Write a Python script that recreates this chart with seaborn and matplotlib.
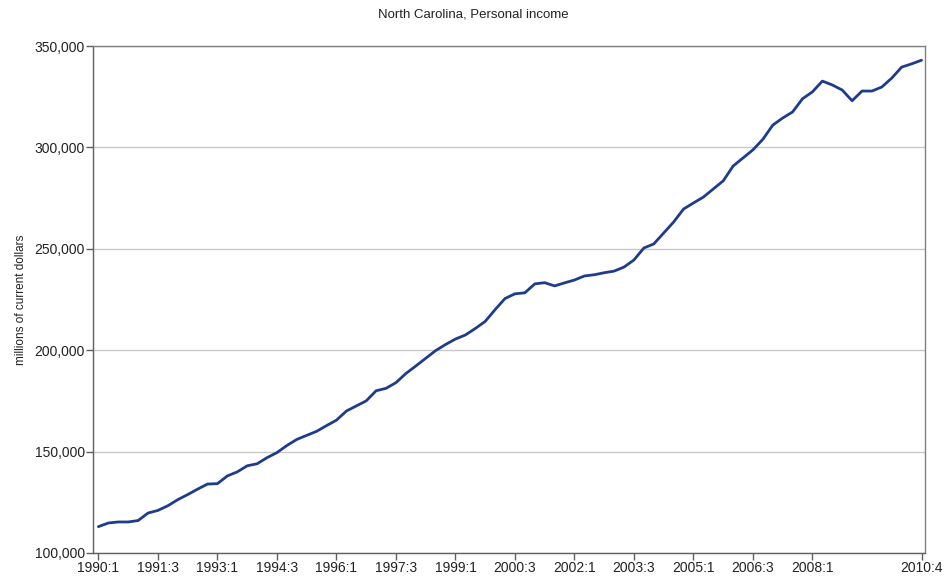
import matplotlib
matplotlib.use("Agg")
import matplotlib.pyplot as plt
import numpy as np
import pandas as pd
import seaborn as sns

# quarterly personal income, millions of current dollars
years = list(range(1990, 2011))
quarters = [f"{y}:{q}" for y in years for q in range(1, 5)]
income = [
    113.0, 114.8, 115.3, 115.3, 116.0, 119.7, 121.0, 123.3,
    126.3, 128.8, 131.5, 134.0, 134.2, 138.0, 140.0, 143.0,
    144.0, 147.0, 149.5, 153.0, 156.0, 158.0, 160.0, 162.8,
    165.5, 170.0, 172.5, 175.0, 180.0, 181.2, 184.0, 188.5,
    192.2, 196.0, 199.8, 202.8, 205.5, 207.5, 210.7, 214.2,
    220.0, 225.5, 227.8, 228.3, 232.7, 233.3, 231.7, 233.2,
    234.6, 236.6, 237.2, 238.2, 239.0, 241.0, 244.5, 250.4,
    252.4, 257.8, 263.2, 269.6, 272.6, 275.5, 279.5, 283.5,
    290.8, 294.8, 298.8, 304.0, 311.0, 314.5, 317.5, 324.0,
    327.4, 332.7, 330.8, 328.3, 323.0, 327.8, 327.8, 329.8,
    334.2, 339.6, 341.2, 343.0,
]
income = [v * 1000 for v in income]
tick_labels = ["1990:1", "1991:3", "1993:1", "1994:3", "1996:1", "1997:3", "1999:1",
               "2000:3", "2002:1", "2003:3", "2005:1", "2006:3", "2008:1", "2010:4"]
y_ticks = [100000, 150000, 200000, 250000, 300000, 350000]

df = pd.DataFrame({"idx": np.arange(len(quarters)), "quarter": quarters, "income": income})

sns.set_style("white")
plt.rcParams['font.family'] = ['Liberation Sans', 'DejaVu Sans']

fig = plt.figure(figsize=(9.46, 5.81), dpi=100)
ax = fig.add_axes([0.0983, 0.0482, 0.8795, 0.8726])

sns.lineplot(data=df, x="idx", y="income", color="#1f3c8c", linewidth=2.0, ax=ax)

ax.set_xlim(-0.55, 83.35)
ax.set_ylim(100000, 350000)
ax.set_yticks(y_ticks)
ax.set_yticklabels([f"{v:,}" for v in y_ticks])
ax.set_xticks([quarters.index(t) for t in tick_labels])
ax.set_xticklabels(tick_labels)

ax.yaxis.grid(True, color="#c8c8c8", linewidth=1)
ax.set_axisbelow(True)
for sp in ax.spines.values():
    sp.set_color("#808080")
    sp.set_linewidth(1)
ax.spines['left'].set_color("#606060")
ax.spines['bottom'].set_color("#606060")

ax.tick_params(axis="both", direction="out", length=5, width=1, color="#606060",
               labelsize=10, labelcolor="#222222", left=True, bottom=True)
ax.tick_params(axis="y", pad=1)
ax.tick_params(axis="x", pad=1)

ax.set_xlabel("")
ax.set_ylabel("millions of current dollars", fontsize=8.5, color="#222222", labelpad=5)
fig.suptitle("North Carolina, Personal income", y=0.985, fontsize=9.5, color="#222222")

fig.savefig("out.png", dpi=100)
